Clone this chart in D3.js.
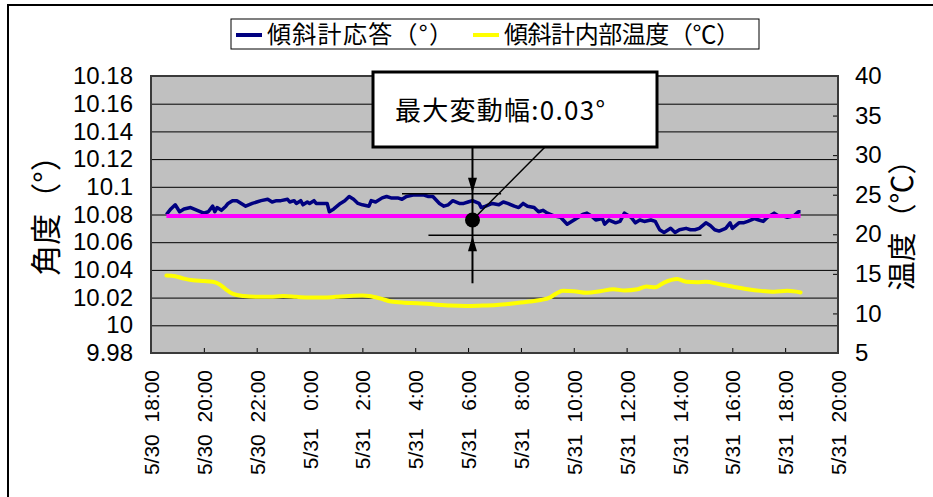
<!DOCTYPE html>
<html>
<head>
<meta charset="utf-8">
<script src="https://cdn.jsdelivr.net/npm/d3@7"></script>
<style>
  body { margin: 0; background: #fff; }
  svg text { white-space: pre; }
</style>
</head>
<body>
<svg id="chart" width="933" height="497"></svg>
<script>
// ---- Data ------------------------------------------------------------
// Tiltmeter response (degrees)
const angleTimes = [
  "5/30 18:35","5/30 18:45","5/30 18:55","5/30 19:05","5/30 19:15","5/30 19:30","5/30 19:45","5/30 20:00","5/30 20:10","5/30 20:20",
  "5/30 20:25","5/30 20:30","5/30 20:40","5/30 20:50","5/30 20:55","5/30 21:05","5/30 21:15","5/30 21:25","5/30 21:35","5/30 21:50",
  "5/30 22:00","5/30 22:10","5/30 22:25","5/30 22:35","5/30 22:45","5/30 22:55","5/30 23:10","5/30 23:15","5/30 23:25","5/30 23:30",
  "5/30 23:40","5/30 23:45","5/30 23:55","5/31 0:00","5/31 0:10","5/31 0:15","5/31 0:30","5/31 0:40","5/31 0:45","5/31 0:55",
  "5/31 1:10","5/31 1:20","5/31 1:30","5/31 1:40","5/31 1:50","5/31 2:00","5/31 2:15","5/31 2:20","5/31 2:30","5/31 2:45",
  "5/31 2:55","5/31 3:05","5/31 3:20","5/31 3:30","5/31 3:40","5/31 3:55","5/31 4:05","5/31 4:20","5/31 4:30","5/31 4:40",
  "5/31 4:55","5/31 5:05","5/31 5:15","5/31 5:25","5/31 5:40","5/31 5:50","5/31 6:00","5/31 6:10","5/31 6:25","5/31 6:30",
  "5/31 6:40","5/31 6:55","5/31 7:10","5/31 7:20","5/31 7:30","5/31 7:45","5/31 7:55","5/31 8:05","5/31 8:15","5/31 8:30",
  "5/31 8:40","5/31 8:50","5/31 9:00","5/31 9:15","5/31 9:30","5/31 9:45","5/31 9:55","5/31 10:05","5/31 10:20","5/31 10:30",
  "5/31 10:40","5/31 10:50","5/31 11:05","5/31 11:10","5/31 11:20","5/31 11:35","5/31 11:45","5/31 11:55","5/31 12:10","5/31 12:20",
  "5/31 12:30","5/31 12:40","5/31 12:55","5/31 13:05","5/31 13:15","5/31 13:25","5/31 13:40","5/31 13:50","5/31 14:00","5/31 14:15",
  "5/31 14:25","5/31 14:35","5/31 14:45","5/31 15:00","5/31 15:10","5/31 15:20","5/31 15:30","5/31 15:45","5/31 15:55","5/31 16:00",
  "5/31 16:15","5/31 16:25","5/31 16:35","5/31 16:50","5/31 17:00","5/31 17:10","5/31 17:20","5/31 17:35","5/31 17:45","5/31 17:55",
  "5/31 18:05","5/31 18:20","5/31 18:30","5/31 18:35"
];
const angleValues = [
  10.080,10.084,10.087,10.082,10.084,10.085,10.083,10.081,10.082,10.086,
  10.082,10.085,10.083,10.086,10.088,10.090,10.090,10.088,10.086,10.088,
  10.089,10.090,10.091,10.089,10.090,10.090,10.091,10.089,10.090,10.088,
  10.090,10.087,10.089,10.088,10.090,10.088,10.088,10.088,10.082,10.084,
  10.088,10.090,10.093,10.091,10.088,10.087,10.086,10.090,10.089,10.092,
  10.093,10.092,10.092,10.091,10.093,10.094,10.094,10.094,10.093,10.093,
  10.088,10.086,10.087,10.090,10.088,10.088,10.089,10.090,10.088,10.085,
  10.086,10.088,10.087,10.089,10.088,10.086,10.085,10.088,10.086,10.085,
  10.082,10.083,10.081,10.079,10.078,10.073,10.075,10.077,10.080,10.081,
  10.079,10.076,10.077,10.073,10.076,10.074,10.075,10.081,10.078,10.074,
  10.076,10.075,10.076,10.075,10.069,10.067,10.070,10.067,10.069,10.070,
  10.069,10.069,10.070,10.074,10.072,10.069,10.068,10.070,10.074,10.070,
  10.074,10.074,10.075,10.077,10.076,10.075,10.078,10.081,10.079,10.079,
  10.078,10.079,10.082,10.082
];

// Internal temperature of the tiltmeter (°C)
const tempTimes = [
  "5/30 18:35","5/30 18:55","5/30 19:15","5/30 19:35","5/30 20:00","5/30 20:20","5/30 20:35","5/30 20:50","5/30 21:05","5/30 21:30",
  "5/30 22:00","5/30 22:30","5/30 23:00","5/30 23:30","5/31 0:00","5/31 0:30","5/31 1:00","5/31 1:30","5/31 2:00","5/31 2:15",
  "5/31 2:40","5/31 3:05","5/31 3:35","5/31 4:05","5/31 4:40","5/31 5:20","5/31 5:55","5/31 6:25","5/31 7:05","5/31 7:45",
  "5/31 8:20","5/31 8:45","5/31 9:05","5/31 9:20","5/31 9:35","5/31 10:00","5/31 10:30","5/31 11:00","5/31 11:30","5/31 11:55",
  "5/31 12:25","5/31 12:45","5/31 13:05","5/31 13:25","5/31 13:55","5/31 14:15","5/31 14:40","5/31 15:00","5/31 15:30","5/31 16:00",
  "5/31 16:35","5/31 17:05","5/31 17:35","5/31 18:05","5/31 18:35"
];
const tempValues = [
  14.8,14.7,14.4,14.2,14.1,14.0,13.7,13.05,12.5,12.2,
  12.1,12.1,12.2,12.1,12.0,12.0,12.1,12.2,12.25,12.2,
  11.9,11.5,11.35,11.3,11.15,11.0,10.95,10.98,11.06,11.28,
  11.5,11.7,12.0,12.5,12.85,12.8,12.6,12.8,13.05,12.9,
  13.05,13.4,13.3,13.9,14.35,14.0,13.95,14.0,13.7,13.4,
  13.05,12.85,12.75,12.85,12.65
];

// Reference level of the response and its range
const meanAngle = 10.079;
const meanSpan = ["5/30 18:35", "5/31 18:35"];
const rangeTop = 10.095;
const rangeWidth = 0.03;
const rangeTopSpan = ["5/31 3:30", "5/31 7:15"];
const rangeBottomSpan = ["5/31 4:30", "5/31 14:50"];
const markerTime = "5/31 6:10";
const markerValue = 10.076;
const calloutText = "最大変動幅:0.03°";

// Axes
const angleTicks = [9.98, 10, 10.02, 10.04, 10.06, 10.08, 10.1, 10.12, 10.14, 10.16, 10.18];
const tempTicks = [5, 10, 15, 20, 25, 30, 35, 40];
const timeDomain = ["5/30 18:00", "5/31 20:00"];
const timeTicks = ["5/30 18:00","5/30 20:00","5/30 22:00","5/31 0:00","5/31 2:00","5/31 4:00","5/31 6:00",
                   "5/31 8:00","5/31 10:00","5/31 12:00","5/31 14:00","5/31 16:00","5/31 18:00","5/31 20:00"];
const seriesNames = ["傾斜計応答（°）", "傾斜計内部温度（℃）"];
const leftTitle = "角度（°）";
const rightTitle = "温度（℃）";

// ---- Drawing ---------------------------------------------------------
const parse = d3.timeParse("%m/%d %H:%M");
const svg = d3.select("#chart");

const plot = { left: 151, right: 838, top: 76, bottom: 353 };
const x = d3.scaleTime().domain(timeDomain.map(parse)).range([plot.left, plot.right]);
const yL = d3.scaleLinear().domain([9.98, 10.18]).range([plot.bottom, plot.top]);
const yR = d3.scaleLinear().domain([5, 40]).range([plot.bottom, plot.top]);

const numFont = "'Liberation Sans', Arial, sans-serif";
const jpFont = "'Noto Sans CJK JP', sans-serif";

// outer frame
svg.append("rect").attr("x", 8).attr("y", 5).attr("width", 1000).attr("height", 600)
  .attr("fill", "none").attr("stroke", "#000").attr("stroke-width", 2);

// plot background
svg.append("rect")
  .attr("x", plot.left).attr("y", plot.top)
  .attr("width", plot.right - plot.left).attr("height", plot.bottom - plot.top)
  .attr("fill", "#c0c0c0");

// horizontal gridlines
svg.append("g").attr("transform", `translate(${plot.left},0)`)
  .call(d3.axisLeft(yL).tickValues(angleTicks).tickSize(-(plot.right - plot.left)).tickFormat(""))
  .call(g => g.select(".domain").remove())
  .call(g => g.selectAll("line").attr("stroke", "#000").attr("stroke-width", 1));

// left axis labels
svg.append("g").attr("transform", `translate(${plot.left},0)`)
  .call(d3.axisLeft(yL).tickValues(angleTicks).tickSize(0).tickPadding(18)
    .tickFormat(d => d3.format("")(+d.toFixed(2))))
  .call(g => g.select(".domain").remove())
  .call(g => g.selectAll("text").attr("font-family", numFont).attr("font-size", 24).attr("fill", "#000"));

// right axis
svg.append("g").attr("transform", `translate(${plot.right},0)`)
  .call(d3.axisRight(yR).tickValues(tempTicks).tickSize(-5).tickPadding(17))
  .call(g => g.select(".domain").remove())
  .call(g => g.selectAll("line").attr("stroke", "#000"))
  .call(g => g.selectAll("text").attr("font-family", numFont).attr("font-size", 24).attr("fill", "#000"));

// bottom axis
const fmtDate = d3.timeFormat("%-m/%-d");
const fmtHour = d3.timeFormat("%-H:%M");
svg.append("g").attr("transform", `translate(0,${plot.bottom})`)
  .call(d3.axisBottom(x).tickValues(timeTicks.map(parse)).tickSize(-5)
    .tickFormat(d => {
      const h = fmtHour(d);
      return fmtDate(d) + (h.length < 5 ? "   " : "  ") + h;
    }))
  .call(g => g.select(".domain").remove())
  .call(g => g.selectAll("line").attr("stroke", "#000"))
  .call(g => g.selectAll("text")
    .attr("transform", "rotate(-90)")
    .attr("x", -17).attr("y", 0).attr("dy", "0.36em")
    .style("text-anchor", "end")
    .attr("font-family", numFont).attr("font-size", 21).attr("fill", "#000"));

// plot border
svg.append("rect")
  .attr("x", plot.left).attr("y", plot.top)
  .attr("width", plot.right - plot.left).attr("height", plot.bottom - plot.top)
  .attr("fill", "none").attr("stroke", "#3a3a3a").attr("stroke-width", 2);

// temperature series
const tempData = tempTimes.map((t, i) => ({ t: parse(t), v: tempValues[i] }));
svg.append("path").datum(tempData)
  .attr("fill", "none").attr("stroke", "#ffff00").attr("stroke-width", 4)
  .attr("stroke-linejoin", "round").attr("stroke-linecap", "round")
  .attr("d", d3.line().x(d => x(d.t)).y(d => yR(d.v)).curve(d3.curveMonotoneX));

// response series
const angleData = angleTimes.map((t, i) => ({ t: parse(t), v: angleValues[i] }));
svg.append("path").datum(angleData)
  .attr("fill", "none").attr("stroke", "#000080").attr("stroke-width", 3.5)
  .attr("stroke-linejoin", "round")
  .attr("d", d3.line().x(d => x(d.t)).y(d => yL(d.v)));

// reference level
svg.append("line")
  .attr("x1", x(parse(meanSpan[0]))).attr("x2", x(parse(meanSpan[1])))
  .attr("y1", yL(meanAngle)).attr("y2", yL(meanAngle))
  .attr("stroke", "#ff00ff").attr("stroke-width", 4);

// range annotation
const ann = svg.append("g");
const rangeBottom = rangeTop - rangeWidth;
const mx = x(parse(markerTime));
const yTop = yL(rangeTop), yBot = yL(rangeBottom);
ann.append("line")
  .attr("x1", x(parse(rangeTopSpan[0]))).attr("x2", x(parse(rangeTopSpan[1])))
  .attr("y1", yTop).attr("y2", yTop).attr("stroke", "#000").attr("stroke-width", 1.5);
ann.append("line")
  .attr("x1", x(parse(rangeBottomSpan[0]))).attr("x2", x(parse(rangeBottomSpan[1])))
  .attr("y1", yBot).attr("y2", yBot).attr("stroke", "#000").attr("stroke-width", 1.5);

const box = { x: 373, y: 72, w: 284, h: 75 };
// vertical dimension line
ann.append("line").attr("x1", mx).attr("x2", mx).attr("y1", box.y + box.h).attr("y2", yBot + 48)
  .attr("stroke", "#000").attr("stroke-width", 2);
// arrow heads
ann.append("path")
  .attr("d", `M${mx - 4.5},${yTop - 16}L${mx + 4.5},${yTop - 16}L${mx},${yTop - 1}Z`).attr("fill", "#000");
ann.append("path")
  .attr("d", `M${mx - 4.5},${yBot + 16}L${mx + 4.5},${yBot + 16}L${mx},${yBot + 1}Z`).attr("fill", "#000");
// marker dot and leader
const my = yL(markerValue);
ann.append("line").attr("x1", 545).attr("y1", box.y + box.h).attr("x2", mx).attr("y2", my)
  .attr("stroke", "#000").attr("stroke-width", 1.5);
ann.append("circle").attr("cx", mx).attr("cy", my).attr("r", 7.5).attr("fill", "#000");

// callout box
ann.append("rect").attr("x", box.x).attr("y", box.y).attr("width", box.w).attr("height", box.h)
  .attr("fill", "#fff").attr("stroke", "#000").attr("stroke-width", 3);
ann.append("text").attr("x", 395).attr("y", 120)
  .attr("font-family", jpFont).attr("font-size", 26).attr("fill", "#000")
  .attr("textLength", 210).attr("lengthAdjust", "spacing")
  .text(calloutText);

// axis titles
svg.append("text").attr("transform", "translate(46,208) rotate(-90)")
  .attr("text-anchor", "middle").attr("dy", "0.36em")
  .attr("font-family", jpFont).attr("font-size", 31).attr("fill", "#000")
  .text(leftTitle);
svg.append("text").attr("transform", "translate(903,218) rotate(-90)")
  .attr("text-anchor", "middle").attr("dy", "0.36em")
  .attr("font-family", jpFont).attr("font-size", 29).attr("fill", "#000")
  .text(rightTitle);

// legend
const lg = svg.append("g");
lg.append("rect").attr("x", 231).attr("y", 19).attr("width", 528).attr("height", 30)
  .attr("fill", "#fff").attr("stroke", "#000").attr("stroke-width", 1);
const legendItems = [
  { name: seriesNames[0], color: "#000080", x: 236, len: 186 },
  { name: seriesNames[1], color: "#ffff00", x: 473, len: 236 }
];
legendItems.forEach(it => {
  lg.append("line").attr("x1", it.x).attr("x2", it.x + 26).attr("y1", 35).attr("y2", 35)
    .attr("stroke", it.color).attr("stroke-width", 4);
  lg.append("text").attr("x", it.x + 31).attr("y", 34).attr("dy", "0.36em")
    .attr("font-family", jpFont).attr("font-size", 24).attr("fill", "#000")
    .attr("textLength", it.len).attr("lengthAdjust", "spacing")
    .text(it.name);
});
</script>
</body>
</html>
